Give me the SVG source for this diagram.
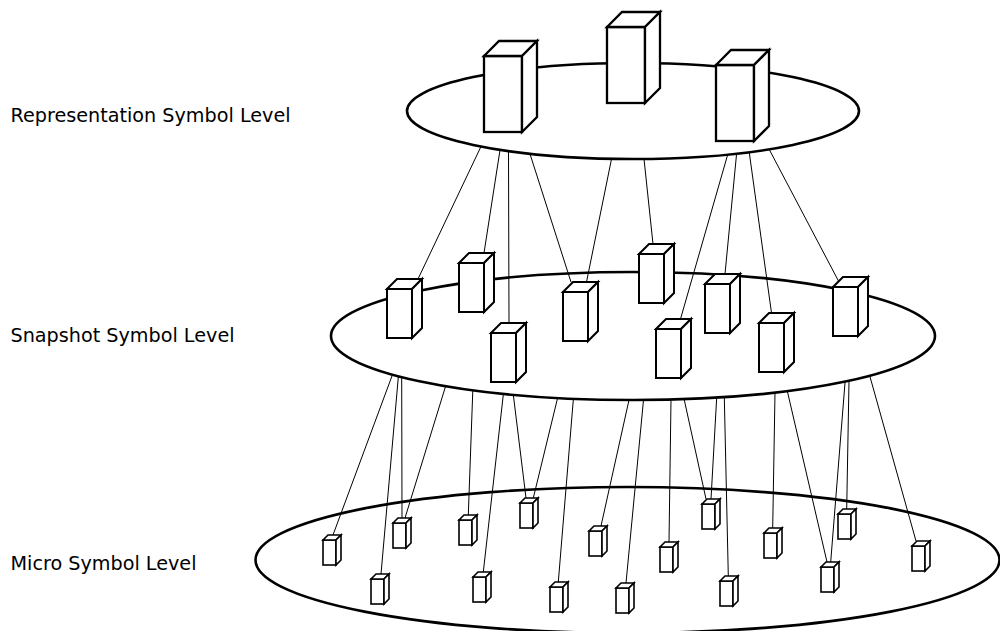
<svg xmlns="http://www.w3.org/2000/svg" xmlns:xlink="http://www.w3.org/1999/xlink" width="1000" height="631" viewBox="0 0 1000 631">
  <style>
    .plane { fill: #fff; stroke: #000; stroke-width: 2.6; }
    .label { font-family: "DejaVu Sans", "Liberation Sans", sans-serif; font-size: 19.2px; fill: #000; }
    .link { stroke: #000; stroke-width: 1; fill: none; }
    .bl { fill: #fff; stroke: #000; stroke-width: 2.3; stroke-linejoin: miter; }
    .bm { fill: #fff; stroke: #000; stroke-width: 2; stroke-linejoin: miter; }
    .bs { fill: #fff; stroke: #000; stroke-width: 1.6; stroke-linejoin: miter; }
  </style>
  <defs>
    <!-- 3D block, large (representation level) -->
    <g id="boxL" class="bl">
      <rect x="0" y="0" width="38" height="76"/>
      <polygon points="0,0 15,-15 53,-15 38,0"/>
      <polygon points="38,0 53,-15 53,61 38,76"/>
    </g>
    <!-- 3D block, medium (snapshot level) -->
    <g id="boxM" class="bm">
      <rect x="0" y="0" width="25" height="49"/>
      <polygon points="0,0 10,-10 35,-10 25,0"/>
      <polygon points="25,0 35,-10 35,39 25,49"/>
    </g>
    <!-- 3D block, small (micro level) -->
    <g id="boxS" class="bs">
      <rect x="0" y="0" width="13" height="25"/>
      <polygon points="0,0 5,-5 18,-5 13,0"/>
      <polygon points="13,0 18,-5 18,20 13,25"/>
    </g>
  </defs>

  <!-- level planes and their captions -->
  <g id="level-micro">
    <ellipse class="plane" cx="627.5" cy="560" rx="372" ry="73"/>
    <text class="label" x="10.5" y="570">Micro Symbol Level</text>
  </g>
  <g id="level-snapshot">
    <ellipse class="plane" cx="633" cy="336" rx="302" ry="64"/>
    <text class="label" x="10.5" y="342">Snapshot Symbol Level</text>
  </g>
  <g id="level-representation">
    <ellipse class="plane" cx="633" cy="111" rx="226" ry="48"/>
    <text class="label" x="10.5" y="121.5">Representation Symbol Level</text>
  </g>

  <!-- connectors -->
  <g id="connectors">
    <!-- representation plane to snapshot blocks -->
    <line class="link" x1="481" y1="146.5" x2="418" y2="279"/>
    <line class="link" x1="500" y1="150" x2="484" y2="253"/>
    <line class="link" x1="508.5" y1="151" x2="509" y2="323"/>
    <line class="link" x1="530" y1="154" x2="571" y2="282"/>
    <line class="link" x1="611.5" y1="159" x2="586.5" y2="282"/>
    <line class="link" x1="644" y1="159" x2="653" y2="244"/>
    <line class="link" x1="727.7" y1="154.6" x2="680.5" y2="319"/>
    <line class="link" x1="736.6" y1="153.7" x2="725" y2="274"/>
    <line class="link" x1="749.2" y1="152" x2="771.5" y2="313"/>
    <line class="link" x1="769" y1="149" x2="838.5" y2="281"/>
    <!-- snapshot plane to micro blocks -->
    <line class="link" x1="392.5" y1="374.6" x2="333" y2="535"/>
    <line class="link" x1="398.4" y1="376.2" x2="381" y2="574"/>
    <line class="link" x1="401.7" y1="377" x2="402" y2="518"/>
    <line class="link" x1="445.6" y1="386.2" x2="405" y2="518"/>
    <line class="link" x1="472.8" y1="390.3" x2="468.3" y2="515"/>
    <line class="link" x1="503.4" y1="393.8" x2="483.3" y2="572"/>
    <line class="link" x1="513.3" y1="394.7" x2="526" y2="498"/>
    <line class="link" x1="557.6" y1="398" x2="533.3" y2="498"/>
    <line class="link" x1="573.4" y1="398.7" x2="558.3" y2="582"/>
    <line class="link" x1="629" y1="400" x2="601" y2="526"/>
    <line class="link" x1="643.5" y1="400" x2="626" y2="583"/>
    <line class="link" x1="671" y1="399.5" x2="669" y2="542"/>
    <line class="link" x1="684.1" y1="399.1" x2="706" y2="499"/>
    <line class="link" x1="716.7" y1="397.5" x2="711" y2="499"/>
    <line class="link" x1="724.3" y1="397" x2="728.3" y2="576"/>
    <line class="link" x1="775" y1="392.5" x2="772.7" y2="528"/>
    <line class="link" x1="787.3" y1="391" x2="827" y2="562"/>
    <line class="link" x1="845.1" y1="381.6" x2="830.7" y2="562"/>
    <line class="link" x1="849" y1="380.8" x2="846.7" y2="509"/>
    <line class="link" x1="869.8" y1="376" x2="916" y2="541"/>
  </g>

  <!-- representation blocks -->
  <g id="rep-1" transform="translate(484,56)"><use xlink:href="#boxL"/></g>
  <g id="rep-2" transform="translate(607,27)"><use xlink:href="#boxL"/></g>
  <g id="rep-3" transform="translate(716,65)"><use xlink:href="#boxL"/></g>

  <!-- snapshot blocks -->
  <g id="snap-1" transform="translate(387,289)"><use xlink:href="#boxM"/></g>
  <g id="snap-2" transform="translate(459,263)"><use xlink:href="#boxM"/></g>
  <g id="snap-3" transform="translate(491,333)"><use xlink:href="#boxM"/></g>
  <g id="snap-4" transform="translate(563,292)"><use xlink:href="#boxM"/></g>
  <g id="snap-5" transform="translate(639,254)"><use xlink:href="#boxM"/></g>
  <g id="snap-6" transform="translate(656,329)"><use xlink:href="#boxM"/></g>
  <g id="snap-7" transform="translate(705,284)"><use xlink:href="#boxM"/></g>
  <g id="snap-8" transform="translate(759,323)"><use xlink:href="#boxM"/></g>
  <g id="snap-9" transform="translate(833,287)"><use xlink:href="#boxM"/></g>

  <!-- micro blocks -->
  <g id="micro-1" transform="translate(323,540)"><use xlink:href="#boxS"/></g>
  <g id="micro-2" transform="translate(371,579)"><use xlink:href="#boxS"/></g>
  <g id="micro-3" transform="translate(393,523)"><use xlink:href="#boxS"/></g>
  <g id="micro-4" transform="translate(459,520)"><use xlink:href="#boxS"/></g>
  <g id="micro-5" transform="translate(473,577)"><use xlink:href="#boxS"/></g>
  <g id="micro-6" transform="translate(520,503)"><use xlink:href="#boxS"/></g>
  <g id="micro-7" transform="translate(550,587)"><use xlink:href="#boxS"/></g>
  <g id="micro-8" transform="translate(589,531)"><use xlink:href="#boxS"/></g>
  <g id="micro-9" transform="translate(616,588)"><use xlink:href="#boxS"/></g>
  <g id="micro-10" transform="translate(660,547)"><use xlink:href="#boxS"/></g>
  <g id="micro-11" transform="translate(702,504)"><use xlink:href="#boxS"/></g>
  <g id="micro-12" transform="translate(720,581)"><use xlink:href="#boxS"/></g>
  <g id="micro-13" transform="translate(764,533)"><use xlink:href="#boxS"/></g>
  <g id="micro-14" transform="translate(821,567)"><use xlink:href="#boxS"/></g>
  <g id="micro-15" transform="translate(838,514)"><use xlink:href="#boxS"/></g>
  <g id="micro-16" transform="translate(912,546)"><use xlink:href="#boxS"/></g>
</svg>
